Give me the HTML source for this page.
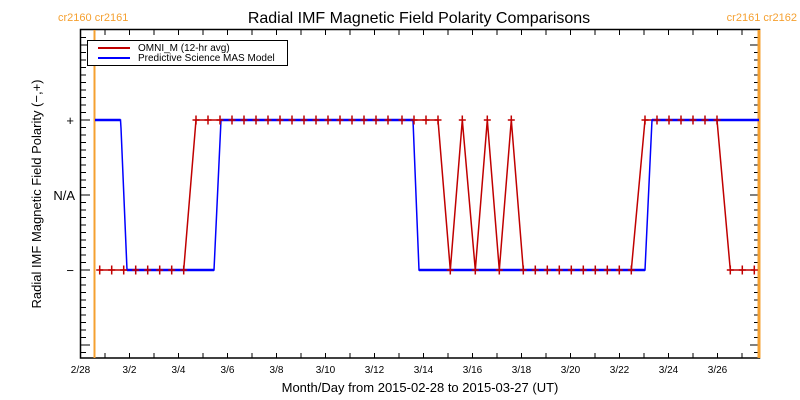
<!DOCTYPE html>
<html><head><meta charset="utf-8"><style>
body{margin:0;background:#fff}
svg{display:block;font-family:"Liberation Sans","DejaVu Sans",sans-serif}
</style></head><body>
<svg width="800" height="400" viewBox="0 0 800 400" xmlns="http://www.w3.org/2000/svg">
<rect width="800" height="400" fill="#fff"/>
<text x="419" y="23" font-size="16" text-anchor="middle" fill="#000">Radial IMF Magnetic Field Polarity Comparisons</text>
<text x="58" y="21" font-size="11" fill="#f5a030">cr2160 cr2161</text>
<text x="797" y="21" font-size="11" fill="#f5a030" text-anchor="end">cr2161 cr2162</text>
<text x="420" y="392" font-size="13" text-anchor="middle" fill="#000">Month/Day from 2015-02-28 to 2015-03-27 (UT)</text>
<text transform="translate(41,194) rotate(-90)" font-size="13" text-anchor="middle" fill="#000">Radial IMF Magnetic Field Polarity (−,+)</text>
<g font-size="10" fill="#000" text-anchor="middle" id="xl"></g>
<g font-size="13" fill="#000" text-anchor="end">
<text x="74" y="125">+</text><text x="75" y="200">N/A</text><text x="74" y="275">−</text>
</g>
<g id="ticks" stroke="#000" stroke-width="1"></g>
<rect x="80.5" y="29.5" width="679" height="328.5" fill="none" stroke="#000" stroke-width="1.5"/>
<line x1="94.5" y1="30" x2="94.5" y2="358" stroke="#f5a030" stroke-width="2"/>
<line x1="759" y1="30" x2="759" y2="358" stroke="#f5a030" stroke-width="3"/>
<g id="red" stroke="#c00000" fill="none" stroke-width="1.5"></g>
<path d="M95,120 H120.5 L121,128 L127,270 H214 L221,120 H413 L419,270 H645 L652,120 H759" fill="none" stroke="#0000ff" stroke-width="1.5"/>
<path d="M95,120 H120.5 M127,270 H214 M221,120 H413 M419,270 H645 M652,120 H759" fill="none" stroke="#0000ff" stroke-width="2.5"/>
<g id="mk" stroke="#c00000" fill="none" stroke-width="1.5"></g>
<rect x="87.5" y="40.5" width="200" height="25" fill="#fff" stroke="#000" stroke-width="1"/>
<line x1="98" y1="48" x2="130" y2="48" stroke="#c00000" stroke-width="2"/>
<line x1="98" y1="58" x2="130" y2="58" stroke="#0000ff" stroke-width="2"/>
<text x="138" y="51" font-size="10" fill="#000">OMNI_M (12-hr avg)</text>
<text x="138" y="61" font-size="10" fill="#000">Predictive Science MAS Model</text>
</svg>
<script>
var ns="http://www.w3.org/2000/svg";
function el(p,t,a,txt){var e=document.createElementNS(ns,t);for(var k in a)e.setAttribute(k,a[k]);if(txt)e.textContent=txt;p.appendChild(e);return e;}
var tk=document.getElementById('ticks'),xl=document.getElementById('xl');
var labels=["2/28","3/2","3/4","3/6","3/8","3/10","3/12","3/14","3/16","3/18","3/20","3/22","3/24","3/26"];
for(var d=0;d<=27;d++){var x=80.5+d*24.5;
el(tk,'line',{x1:x,y1:358,x2:x,y2:353});el(tk,'line',{x1:x,y1:30,x2:x,y2:35});
if(d%2==0)el(xl,'text',{x:x,y:373},labels[d/2]);}
for(var y=37.5;y<358;y+=7.5){var maj=Math.abs(((y-45)/75)-Math.round((y-45)/75))<0.01;var L=maj?9:5;
el(tk,'line',{x1:81,y1:y,x2:81+L,y2:y});el(tk,'line',{x1:759,y1:y,x2:759-L,y2:y});}
var P=270,M=120,pts=[];
[99.7,111.7,123.7,135.7,147.7,159.7,171.7,183.7].forEach(function(x){pts.push([x,P]);});
for(var x=196;x<=390;x+=12)pts.push([x,M]);
[402,414,426,438].forEach(function(x){pts.push([x,M]);});
[[450.3,P],[462.3,M],[475.3,P],[487.3,M],[499.3,P],[511.3,M],[523.3,P]].forEach(function(p){pts.push(p);});
for(var x=535.3;x<=632;x+=12)pts.push([x,P]);
for(var x=645;x<=718;x+=12)pts.push([x,M]);
[730.3,742.3,754.3].forEach(function(x){pts.push([x,P]);});
var red=document.getElementById('red'),mk=document.getElementById('mk');
var d="M"+pts.map(function(p){return p[0]+","+p[1];}).join(" L");
el(red,'path',{d:d});
pts.forEach(function(p){el(mk,'path',{d:"M"+(p[0]-3.5)+","+p[1]+"h7M"+p[0]+","+(p[1]-4.5)+"v9"});});
</script>
</body></html>
